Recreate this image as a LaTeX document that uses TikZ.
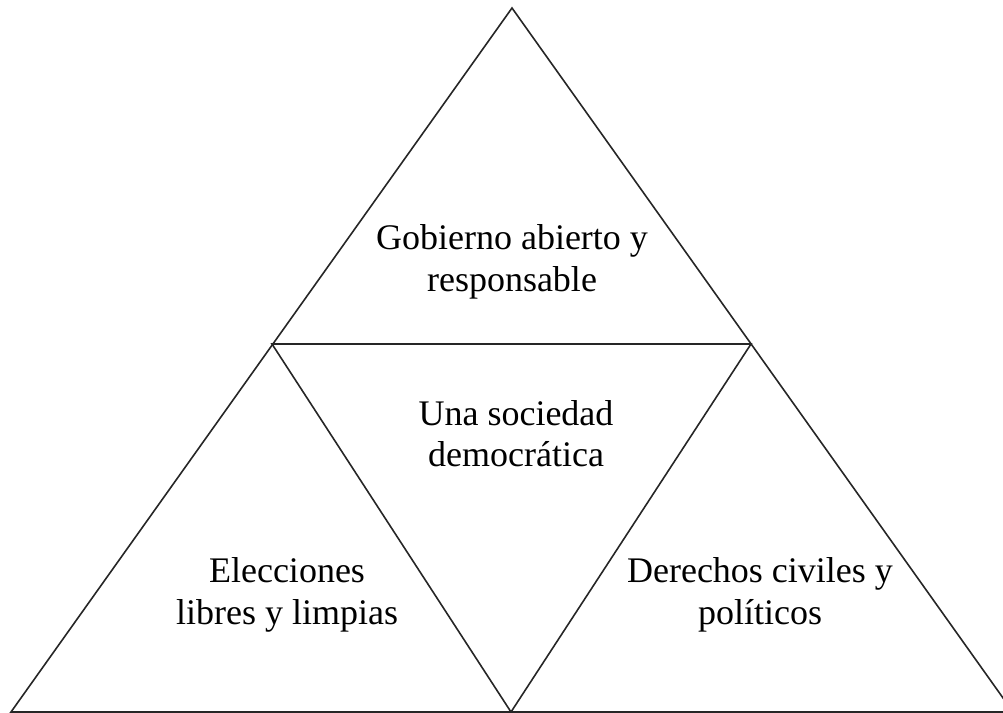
\documentclass[tikz,border=0pt]{standalone}
\usepackage{fontspec}
\setmainfont{Liberation Serif}
\begin{document}
\begin{tikzpicture}[x=0.75pt,y=-0.75pt,
  edge/.style={draw=black!85,line width=1.2pt,line join=miter},
  lbl/.style={align=center,font=\fontsize{27}{31}\selectfont,inner sep=0pt}]
\useasboundingbox (0,0) rectangle (1003,713);
\coordinate (A) at (512,8);
\coordinate (B) at (11,712);
\coordinate (C) at (1013,712);
\coordinate (L) at (272,344);
\coordinate (R) at (751,344);
\coordinate (M) at (511,712);
\draw[edge] (A) -- (B) -- (C) -- cycle;
\draw[edge] (L) -- (R) -- (M) -- cycle;
\node[lbl] (top) at (512,262) {Gobierno abierto y\\responsable};
\node[lbl] (mid) at (516,434) {Una sociedad\\democrática};
\node[lbl] (left) at (287,595) {Elecciones\\libres y limpias};
\node[lbl] (right) at (760,595) {Derechos civiles y\\políticos};
\end{tikzpicture}
\end{document}
